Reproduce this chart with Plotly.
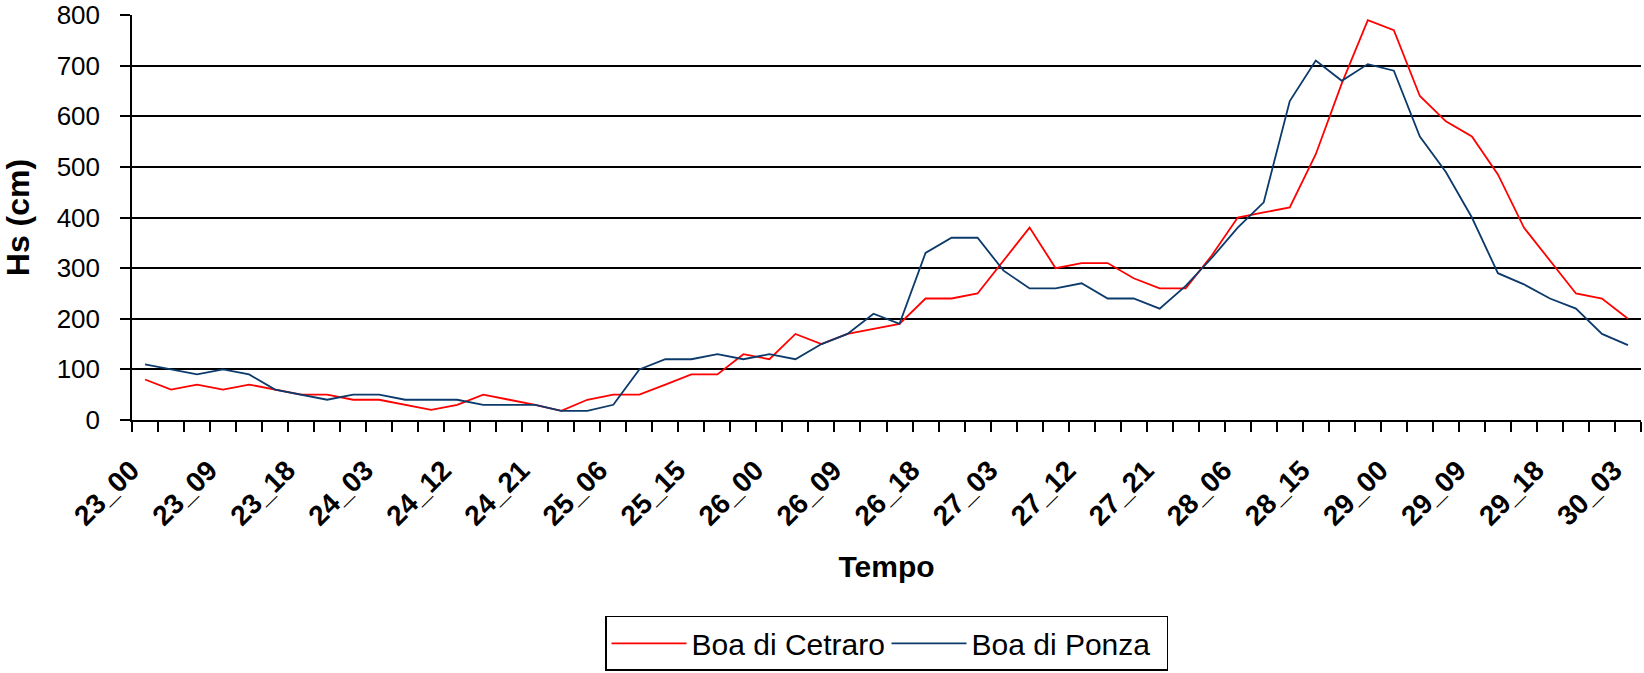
import plotly.graph_objects as go

# 3-hourly categories from 23_00 to 30_03
times = [f"{d}_{h:02d}" for d in range(23, 31) for h in range(0, 24, 3)][:58]
tick_labels = times[::3]

cetraro = [80, 60, 70, 60, 70, 60, 50, 50, 40, 40,
           30, 20, 30, 50, 40, 30, 18, 40, 50, 50,
           70, 90, 90, 130, 120, 170, 150, 170, 180, 190,
           240, 240, 250, 315, 380, 300, 310, 310, 280, 260,
           260, 325, 400, 410, 420, 525, 665, 790, 770, 640,
           590, 560, 485, 380, 315, 250, 240, 200]

ponza = [110, 100, 90, 100, 90, 60, 50, 40, 50, 50,
         40, 40, 40, 30, 30, 30, 18, 18, 30, 100,
         120, 120, 130, 120, 130, 120, 150, 170, 210, 190,
         330, 360, 360, 295, 260, 260, 270, 240, 240, 220,
         265, 320, 380, 430, 630, 710, 670, 703, 690, 560,
         490, 400, 290, 268, 240, 220, 170, 148]

idx = list(range(len(times)))
FONT = "Liberation Sans, Arial, sans-serif"

fig = go.Figure()
fig.add_trace(go.Scatter(x=idx, y=cetraro, mode="lines", name="Boa di Cetraro",
                         line=dict(color="#FF0000", width=1.8), customdata=times))
fig.add_trace(go.Scatter(x=idx, y=ponza, mode="lines", name="Boa di Ponza",
                         line=dict(color="#0B3A6B", width=1.8), customdata=times))

fig.update_layout(
    width=1644, height=673,
    margin=dict(l=132, r=3, t=15, b=253, autoexpand=False),
    paper_bgcolor="white", plot_bgcolor="white",
    font=dict(family=FONT, color="black"),
    showlegend=True,
    legend=dict(orientation="h", x=0.5, xanchor="center", y=-0.6195, yanchor="bottom",
                bordercolor="black", borderwidth=1.5, font=dict(size=30, family=FONT),
                itemwidth=75, entrywidth=190, entrywidthmode="pixels", bgcolor="white"),
)

fig.update_xaxes(
    range=[-0.5, len(times) - 0.5],
    tickmode="array", tickvals=idx[::3], ticktext=tick_labels,
    tickangle=-45, ticks="", tickfont=dict(size=28, family=FONT, weight="bold"),
    ticklabelstandoff=21, ticklabelshift=-14,
    minor=dict(ticks="outside", tick0=-0.5, dtick=1, ticklen=10, tickwidth=1.5,
               tickcolor="black", showgrid=False),
    showline=True, linecolor="black", linewidth=1.5, showgrid=False, zeroline=False,
    title=dict(text="<b>Tempo</b>", font=dict(size=30, family=FONT), standoff=25),
    automargin=False,
)
fig.update_yaxes(
    range=[0, 800], dtick=100, tick0=0,
    ticks="outside", ticklen=10, tickwidth=1.5, tickcolor="black",
    tickfont=dict(size=26, family=FONT), ticklabelstandoff=15,
    showline=True, linecolor="black", linewidth=1.5,
    showgrid=True, gridcolor="black", gridwidth=1.5, zeroline=False,
    title=dict(text="<b>Hs (cm)</b>", font=dict(size=32, family=FONT), standoff=20),
    automargin=False,
)

fig.write_html("out.html", config={"displayModeBar": False},
               post_script="document.body.style.margin='0';document.body.style.overflow='hidden';")
